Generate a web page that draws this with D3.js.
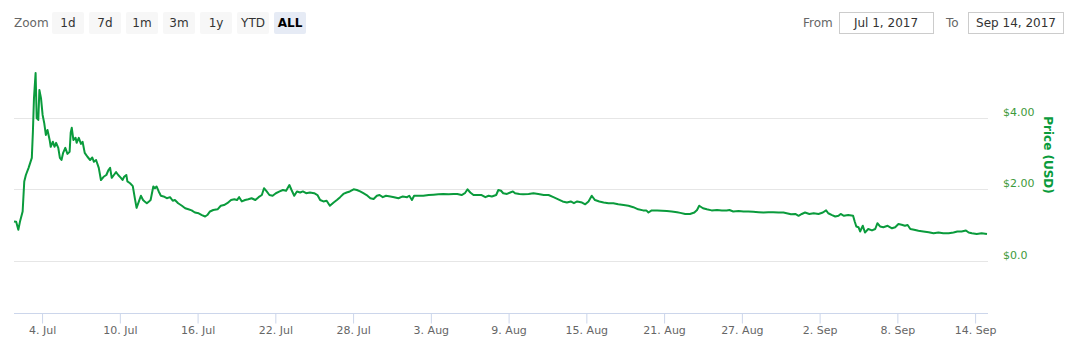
<!DOCTYPE html>
<head>
<meta charset="utf-8">
<title>Price (USD)</title>
<script type="text/javascript" src="https://d3js.org/d3.v7.min.js"></script>
<style>
body { margin: 0; background: #fff; }
text { font-family: "DejaVu Sans", sans-serif; }
</style>
</head>
<body>
<div id="chart"></div>
<script>
// hours after 2017-07-01 00:00 for each sample
var startDate = "2017-07-01";
var hours = [20,24,28,31,36,39,42,47,50,53,55,57,60,62,65,67,70,73,76,79,82,86,88,92,95,98,102,105,108,111,
  115,119,123,125,127,130,134,136,140,144,147,151,156,161,165,168,172,177,181,186,191,195,198,201,205,209,213,218,221,224,
  228,230,235,240,244,247,251,255,259,262,266,270,273,278,281,284,288,292,297,303,309,314,318,324,331,337,343,349,355,362,
  368,374,378,383,389,397,403,409,415,422,428,433,437,442,448,454,460,467,473,479,483,488,493,499,505,512,518,524,530,534,
  539,544,550,555,561,568,576,582,587,593,599,605,612,618,624,630,636,642,649,655,661,667,673,680,686,692,697,703,709,717,
  724,732,740,748,752,757,761,769,778,788,797,806,815,825,834,841,849,855,860,865,871,878,886,893,899,905,913,917,922,926,
  933,939,944,948,956,963,973,982,991,1001,1010,1019,1028,1036,1044,1051,1057,1063,1072,1078,1084,1090,1096,1104,1112,1121,1130,1139,1149,1158,
  1167,1176,1185,1191,1195,1201,1211,1220,1229,1238,1248,1254,1263,1272,1280,1285,1289,1296,1303,1312,1322,1331,1340,1345,1352,1362,1371,1380,1389,1399,
  1408,1417,1426,1436,1445,1451,1459,1467,1473,1479,1485,1493,1501,1510,1518,1524,1528,1535,1541,1547,1551,1557,1565,1574,1577,1580,1584,1587,1592,1596,
  1602,1609,1615,1619,1624,1630,1638,1646,1652,1658,1664,1670,1675,1680,1687,1695,1704,1714,1723,1732,1741,1751,1760,1767,1775,1783,1788,1794,1803,1812,1822];
var prices = [1.10,1.09,0.87,1.09,1.38,2.22,2.40,2.60,2.74,2.88,3.61,4.55,5.25,3.99,3.94,4.78,4.55,4.08,3.85,3.52,3.66,3.38,3.19,3.33,3.19,3.30,3.16,2.88,2.82,3.02,
  3.16,2.99,3.05,3.58,3.72,3.38,3.44,3.30,3.44,3.27,3.33,3.02,2.91,2.82,2.89,2.77,2.82,2.60,2.26,2.35,2.40,2.54,2.60,2.32,2.40,2.48,2.40,2.32,2.26,2.35,
  2.40,2.22,2.17,2.09,1.73,1.48,1.65,1.82,1.70,1.66,1.61,1.66,1.70,2.08,2.03,2.08,1.94,1.82,1.80,1.75,1.78,1.68,1.70,1.61,1.54,1.47,1.44,1.41,1.35,1.33,
  1.28,1.24,1.28,1.38,1.42,1.44,1.54,1.56,1.61,1.70,1.72,1.70,1.78,1.66,1.70,1.72,1.75,1.70,1.78,1.84,2.03,1.94,1.84,1.82,1.89,1.94,1.98,1.96,2.12,1.98,
  1.82,1.94,1.91,1.94,1.89,1.91,1.89,1.84,1.70,1.66,1.68,1.54,1.63,1.70,1.78,1.87,1.91,1.94,2.00,1.98,1.94,1.89,1.84,1.75,1.73,1.82,1.84,1.78,1.82,1.80,
  1.78,1.75,1.80,1.78,1.82,1.70,1.82,1.82,1.82,1.84,1.85,1.86,1.87,1.86,1.87,1.87,1.84,1.89,2.00,1.91,1.84,1.84,1.84,1.78,1.82,1.80,1.84,1.98,1.96,1.89,
  1.87,1.91,1.94,1.89,1.87,1.86,1.87,1.89,1.87,1.84,1.84,1.78,1.72,1.66,1.63,1.66,1.61,1.66,1.63,1.58,1.66,1.82,1.70,1.66,1.63,1.61,1.61,1.58,1.56,1.54,
  1.50,1.44,1.41,1.41,1.35,1.41,1.41,1.40,1.39,1.38,1.36,1.34,1.31,1.31,1.35,1.42,1.54,1.47,1.44,1.41,1.42,1.41,1.41,1.42,1.38,1.39,1.38,1.38,1.37,1.36,
  1.35,1.36,1.36,1.35,1.35,1.33,1.30,1.31,1.26,1.31,1.35,1.31,1.33,1.31,1.35,1.41,1.33,1.28,1.24,1.26,1.31,1.26,1.28,1.26,1.10,0.96,0.94,0.82,0.98,0.79,
  0.89,0.85,0.89,1.05,0.96,0.94,0.98,0.91,0.94,1.03,1.01,0.98,1.00,0.89,0.87,0.84,0.82,0.80,0.77,0.79,0.77,0.77,0.79,0.82,0.82,0.85,0.79,0.77,0.75,0.77,0.75];

var xTicks = ["2017-07-04","2017-07-10","2017-07-16","2017-07-22","2017-07-28","2017-08-03","2017-08-09",
  "2017-08-15","2017-08-21","2017-08-27","2017-09-02","2017-09-08","2017-09-14"];
var yTicks = [0, 2, 4];
var zoomButtons = ["1d","7d","1m","3m","1y","YTD","ALL"];
var fromText = "Jul 1, 2017";
var toText = "Sep 14, 2017";

var parseDay = d3.timeParse("%Y-%m-%d");
var t0 = parseDay(startDate);
var data = hours.map(function(h, i) {
  return { date: d3.timeHour.offset(t0, h), price: prices[i] };
});

var W = 1080, H = 351;
var left = 14, right = 988;
var green = "#0a9b3c";

var svg = d3.select("#chart").append("svg")
  .attr("width", W).attr("height", H);

// scales
var xScale = d3.scaleTime()
  .domain(d3.extent(data, function(d) { return d.date; }))
  .range([left, 987]);
var yScale = d3.scaleLinear().domain([0, 4]).range([260.8, 117.8]);

// grid lines
svg.append("g").selectAll("line").data(yTicks).enter().append("line")
  .attr("x1", left).attr("x2", right)
  .attr("y1", function(d) { return Math.round(yScale(d)) + 0.5; })
  .attr("y2", function(d) { return Math.round(yScale(d)) + 0.5; })
  .attr("stroke", "#e6e6e6");

// y labels on the right
svg.append("g").selectAll("text").data(yTicks).enter().append("text")
  .attr("x", 1003)
  .attr("y", function(d) { return yScale(d) - 2; })
  .style("font-size", "11px")
  .attr("fill", "#3d9a3a")
  .text(function(d) { return d === 0 ? "$0.0" : "$" + d.toFixed(2); });

svg.append("text")
  .attr("transform", "translate(1044,155) rotate(90)")
  .attr("text-anchor", "middle")
  .style("font-size", "12px")
  .style("font-weight", "bold")
  .attr("fill", green)
  .text("Price (USD)");

// x axis
var xAxis = d3.axisBottom(xScale)
  .tickValues(xTicks.map(parseDay))
  .tickSize(10)
  .tickFormat(d3.timeFormat("%-d. %b"));

var gx = svg.append("g")
  .attr("transform", "translate(0,313.5)")
  .call(xAxis);
gx.select(".domain").attr("d", "M" + left + ",0H" + right).attr("stroke", "#ccd6eb");
gx.selectAll(".tick line").attr("stroke", "#ccd6eb");
gx.selectAll(".tick text")
  .attr("y", 13)
  .style("font-size", "11px")
  .style("font-family", "DejaVu Sans")
  .attr("fill", "#666");

// price line
svg.append("path")
  .datum(data)
  .attr("fill", "none")
  .attr("stroke", green)
  .attr("stroke-width", 2)
  .attr("stroke-linejoin", "round")
  .attr("d", d3.line()
    .x(function(d) { return xScale(d.date); })
    .y(function(d) { return yScale(d.price); }));

// range selector buttons
svg.append("text")
  .attr("x", 14).attr("y", 27)
  .style("font-size", "12px")
  .attr("fill", "#666")
  .text("Zoom");

var btn = svg.append("g").selectAll("g").data(zoomButtons).enter().append("g")
  .attr("transform", function(d, i) { return "translate(" + (52 + i * 37) + ",12)"; });
btn.append("rect")
  .attr("width", 32).attr("height", 22).attr("rx", 2)
  .attr("fill", function(d) { return d === "ALL" ? "#e6ebf5" : "#f7f7f7"; });
btn.append("text")
  .attr("x", 16).attr("y", 15)
  .attr("text-anchor", "middle")
  .style("font-size", "12px")
  .style("font-weight", function(d) { return d === "ALL" ? "bold" : "normal"; })
  .attr("fill", function(d) { return d === "ALL" ? "#000" : "#333"; })
  .text(function(d) { return d; });

// date inputs
svg.append("text").attr("x", 803).attr("y", 27)
  .style("font-size", "12px").attr("fill", "#666").text("From");
svg.append("rect").attr("x", 839.5).attr("y", 12.5).attr("width", 94).attr("height", 21)
  .attr("fill", "#fff").attr("stroke", "#ccc");
svg.append("text").attr("x", 886).attr("y", 27).attr("text-anchor", "middle")
  .style("font-size", "12px").attr("fill", "#333").text(fromText);

svg.append("text").attr("x", 946).attr("y", 27)
  .style("font-size", "12px").attr("fill", "#666").text("To");
svg.append("rect").attr("x", 968.5).attr("y", 12.5).attr("width", 95).attr("height", 21)
  .attr("fill", "#fff").attr("stroke", "#ccc");
svg.append("text").attr("x", 1016).attr("y", 27).attr("text-anchor", "middle")
  .style("font-size", "12px").attr("fill", "#333").text(toText);
</script>
</body>
